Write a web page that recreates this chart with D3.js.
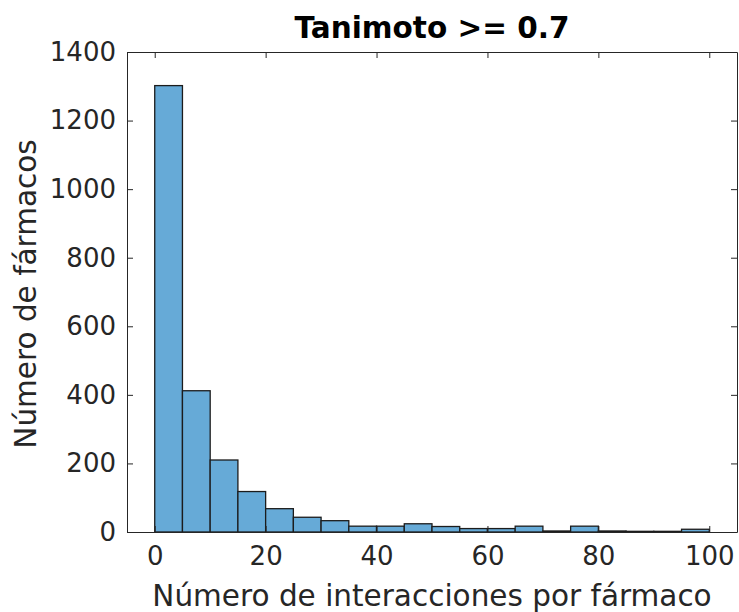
<!DOCTYPE html>
<html>
<head>
<meta charset="utf-8">
<script src="https://cdn.jsdelivr.net/npm/d3@7"></script>
<style>
  html, body { margin: 0; padding: 0; background: #fff; }
  svg { display: block; font-family: "DejaVu Sans", sans-serif; }
</style>
</head>
<body>
<svg id="chart" width="739" height="612"></svg>
<script>
// Histogram bins: left edge of each 5-wide bin and its count
const binStarts = [0, 5, 10, 15, 20, 25, 30, 35, 40, 45, 50, 55, 60, 65, 70, 75, 80, 85, 90, 95];
const binWidth = 5;
const counts = [1302, 412, 210, 118, 68, 43, 33, 17, 17, 24, 16, 10, 10, 17, 3, 17, 3, 2, 2, 8];

const xTicks = [0, 20, 40, 60, 80, 100];
const yTicks = [0, 200, 400, 600, 800, 1000, 1200, 1400];

const titleText = "Tanimoto >= 0.7";
const xLabel = "Número de interacciones por fármaco";
const yLabel = "Número de fármacos";

const box = { left: 127, right: 737, top: 52, bottom: 532 };
const axisColor = "#262626";
const tickLen = 6;

const svg = d3.select("#chart");

const x = d3.scaleLinear().domain([-5, 105]).range([box.left, box.right]);
const y = d3.scaleLinear().domain([0, 1400]).range([box.bottom, box.top]);

// bars
svg.append("g")
  .selectAll("rect")
  .data(binStarts.map((s, i) => ({ s, c: counts[i] })))
  .join("rect")
  .attr("x", d => x(d.s))
  .attr("width", d => x(d.s + binWidth) - x(d.s))
  .attr("y", d => y(d.c))
  .attr("height", d => y(0) - y(d.c))
  .attr("fill", "#66aad7")
  .attr("stroke", "#1c1c1c")
  .attr("stroke-width", 1.3);

// axes: bottom and left with labels, top and right ticks only (inward)
const fontTick = 26;
const fmt = d3.format("d");
const xAxis = d3.axisBottom(x).tickValues(xTicks).tickFormat(fmt).tickSizeInner(-tickLen).tickSizeOuter(0).tickPadding(15);
const yAxis = d3.axisLeft(y).tickValues(yTicks).tickFormat(fmt).tickSizeInner(-tickLen).tickSizeOuter(0).tickPadding(11);
const xTop = d3.axisTop(x).tickValues(xTicks).tickSizeInner(-tickLen).tickSizeOuter(0).tickFormat("");
const yRight = d3.axisRight(y).tickValues(yTicks).tickSizeInner(-tickLen).tickSizeOuter(0).tickFormat("");

function styleAxis(g) {
  g.select(".domain").attr("stroke", axisColor).attr("stroke-width", 1);
  g.selectAll(".tick line").attr("stroke", axisColor).attr("stroke-width", 1);
  g.selectAll(".tick text").attr("fill", axisColor)
    .style("font-size", fontTick + "px").style("font-family", "DejaVu Sans, sans-serif");
}

svg.append("g").attr("transform", `translate(0,${box.bottom})`).call(xAxis).call(styleAxis);
svg.append("g").attr("transform", `translate(${box.left},0)`).call(yAxis).call(styleAxis);
svg.append("g").attr("transform", `translate(0,${box.top})`).call(xTop).call(styleAxis);
svg.append("g").attr("transform", `translate(${box.right},0)`).call(yRight).call(styleAxis);

// title
svg.append("text")
  .attr("x", (box.left + box.right) / 2)
  .attr("y", 38)
  .attr("text-anchor", "middle")
  .attr("fill", "#000")
  .style("font-size", "29.5px")
  .style("font-weight", "bold")
  .text(titleText);

// x label
svg.append("text")
  .attr("x", (box.left + box.right) / 2)
  .attr("y", 606)
  .attr("text-anchor", "middle")
  .attr("fill", axisColor)
  .style("font-size", "29.5px")
  .text(xLabel);

// y label
svg.append("text")
  .attr("transform", `translate(36,294) rotate(-90)`)
  .attr("text-anchor", "middle")
  .attr("fill", axisColor)
  .style("font-size", "29.5px")
  .text(yLabel);
</script>
</body>
</html>
